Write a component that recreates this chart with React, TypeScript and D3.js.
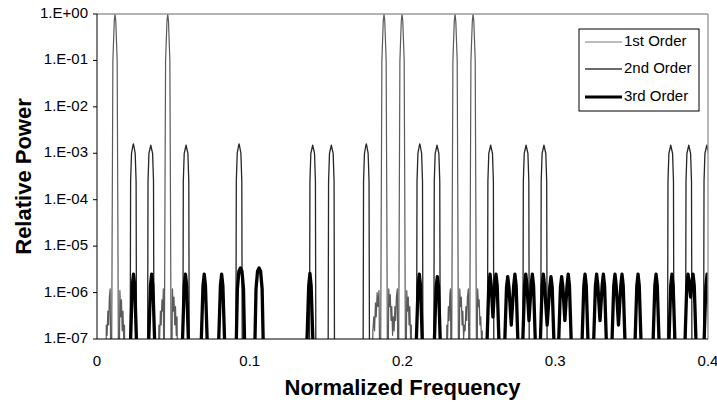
import React from 'react';
import * as d3 from 'd3';

const W = 717;
const H = 402;
const PL = 97, PR = 708, PT = 14, PB = 339;

const xTickValues = [0, 0.1, 0.2, 0.3, 0.4];
const xTickLabels = ['0', '0.1', '0.2', '0.3', '0.4'];
const yTickValues = [1, 1e-1, 1e-2, 1e-3, 1e-4, 1e-5, 1e-6, 1e-7];
const yTickLabels = ['1.E+00', '1.E-01', '1.E-02', '1.E-03', '1.E-04', '1.E-05', '1.E-06', '1.E-07'];
const seriesNames = ['1st Order', '2nd Order', '3rd Order'];
const xTitle = 'Normalized Frequency';
const yTitle = 'Relative Power';

// [normalized frequency, relative power]; values under 1e-7 fall below the axis
const firstOrder: [number, number][] = [
  [0, 1e-9],
  [0.0056, 1e-9], [0.0061, 2e-7], [0.0066, 1.2e-7], [0.0071, 4e-7], [0.0076, 2e-7], [0.0081, 8e-7], [0.0086, 1.2e-6],
  [0.0094, 1e-9], [0.0100, 1e-4], [0.0104, 0.1], [0.0113, 0.7], [0.0118, 1], [0.0123, 0.7], [0.0132, 0.1], [0.0136, 1e-4], [0.0142, 1e-9],
  [0.0150, 1.1e-6], [0.0155, 3e-7], [0.0160, 7e-7], [0.0165, 1.5e-7], [0.0170, 4e-7], [0.0175, 1e-7], [0.0180, 2e-7], [0.0186, 1e-9],
  [0.0399, 1e-9], [0.0405, 2e-7], [0.0410, 1e-7], [0.0415, 4e-7], [0.0420, 2e-7], [0.0425, 7e-7], [0.0430, 4e-7], [0.0434, 1.2e-6],
  [0.0439, 1e-9], [0.0445, 1e-4], [0.0449, 0.1], [0.0458, 0.7], [0.0463, 1], [0.0468, 0.7], [0.0477, 0.1], [0.0481, 1e-4], [0.0487, 1e-9],
  [0.0494, 1.2e-6], [0.0499, 4e-7], [0.0504, 8e-7], [0.0509, 2e-7], [0.0514, 5e-7], [0.0519, 1.2e-7], [0.0524, 3e-7], [0.0531, 1e-9],
  [0.1800, 1e-9], [0.1806, 1.5e-7], [0.1812, 3e-7], [0.1817, 1.5e-7], [0.1823, 6e-7], [0.1828, 3e-7], [0.1834, 1e-6], [0.1839, 5e-7], [0.1846, 1.1e-6],
  [0.1855, 1e-9], [0.1861, 1e-4], [0.1865, 0.1], [0.1874, 0.7], [0.1879, 1], [0.1884, 0.7], [0.1893, 0.1], [0.1897, 1e-4], [0.1903, 1e-9],
  [0.1910, 1.2e-6], [0.1915, 5e-7], [0.1920, 9e-7], [0.1925, 2.5e-7], [0.1930, 5e-7], [0.1935, 1.2e-7], [0.1940, 3e-7], [0.1945, 1.5e-7], [0.1950, 5e-7], [0.1955, 2.5e-7], [0.1960, 8e-7], [0.1966, 1.2e-6],
  [0.1973, 1e-9], [0.1979, 1e-4], [0.1983, 0.1], [0.1992, 0.7], [0.1997, 1], [0.2002, 0.7], [0.2011, 0.1], [0.2015, 1e-4], [0.2021, 1e-9],
  [0.2028, 1.1e-6], [0.2033, 4e-7], [0.2038, 8e-7], [0.2043, 2e-7], [0.2048, 5e-7], [0.2053, 1e-7], [0.2058, 2e-7], [0.2064, 1e-9],
  [0.2285, 1e-9], [0.2290, 2e-7], [0.2295, 1e-7], [0.2300, 5e-7], [0.2305, 2.5e-7], [0.2310, 9e-7], [0.2314, 1.2e-6],
  [0.2320, 1e-9], [0.2326, 1e-4], [0.2330, 0.1], [0.2339, 0.7], [0.2344, 1], [0.2349, 0.7], [0.2358, 0.1], [0.2362, 1e-4], [0.2368, 1e-9],
  [0.2375, 1.2e-6], [0.2380, 5e-7], [0.2385, 8e-7], [0.2390, 2e-7], [0.2395, 4e-7], [0.2400, 1e-7], [0.2405, 2e-7], [0.2410, 1.5e-7], [0.2415, 5e-7], [0.2420, 2.5e-7], [0.2425, 8e-7], [0.2431, 1.2e-6],
  [0.2438, 1e-9], [0.2444, 1e-4], [0.2448, 0.1], [0.2457, 0.7], [0.2462, 1], [0.2467, 0.7], [0.2476, 0.1], [0.2480, 1e-4], [0.2486, 1e-9],
  [0.2492, 1.2e-6], [0.2497, 5e-7], [0.2502, 7e-7], [0.2507, 2e-7], [0.2512, 3e-7], [0.2517, 1e-7], [0.2522, 1.5e-7], [0.2528, 1e-9],
  [0.4, 1e-9],
];

const secondOrder: [number, number][] = [
  [0, 1e-9],
  [0.0216, 1e-9], [0.0220, 2.5e-4], [0.0226, 1e-3], [0.0234, 1.4e-3], [0.0238, 1.6e-3], [0.0242, 1.4e-3], [0.0250, 1e-3], [0.0256, 2.5e-4], [0.0260, 1e-9],
  [0.0330, 1e-9], [0.0334, 2.5e-4], [0.0340, 1e-3], [0.0348, 1.3e-3], [0.0352, 1.5e-3], [0.0356, 1.3e-3], [0.0364, 1e-3], [0.0370, 2.5e-4], [0.0374, 1e-9],
  [0.0561, 1e-9], [0.0565, 2.5e-4], [0.0571, 1e-3], [0.0579, 1.3e-3], [0.0583, 1.5e-3], [0.0587, 1.3e-3], [0.0595, 1e-3], [0.0601, 2.5e-4], [0.0605, 1e-9],
  [0.0908, 1e-9], [0.0912, 2.5e-4], [0.0918, 1e-3], [0.0926, 1.4e-3], [0.0930, 1.6e-3], [0.0934, 1.4e-3], [0.0942, 1e-3], [0.0948, 2.5e-4], [0.0952, 1e-9],
  [0.1390, 1e-9], [0.1394, 2.5e-4], [0.1400, 1e-3], [0.1408, 1.3e-3], [0.1412, 1.5e-3], [0.1416, 1.3e-3], [0.1424, 1e-3], [0.1430, 2.5e-4], [0.1434, 1e-9],
  [0.1512, 1e-9], [0.1516, 2.5e-4], [0.1522, 1e-3], [0.1530, 1.3e-3], [0.1534, 1.5e-3], [0.1538, 1.3e-3], [0.1546, 1e-3], [0.1552, 2.5e-4], [0.1556, 1e-9],
  [0.1741, 1e-9], [0.1745, 2.5e-4], [0.1751, 1e-3], [0.1759, 1.4e-3], [0.1763, 1.6e-3], [0.1767, 1.4e-3], [0.1775, 1e-3], [0.1781, 2.5e-4], [0.1785, 1e-9],
  [0.2091, 1e-9], [0.2095, 2.5e-4], [0.2101, 1e-3], [0.2109, 1.4e-3], [0.2113, 1.6e-3], [0.2117, 1.4e-3], [0.2125, 1e-3], [0.2131, 2.5e-4], [0.2135, 1e-9],
  [0.2204, 1e-9], [0.2208, 2.5e-4], [0.2214, 1e-3], [0.2222, 1.3e-3], [0.2226, 1.5e-3], [0.2230, 1.3e-3], [0.2238, 1e-3], [0.2244, 2.5e-4], [0.2248, 1e-9],
  [0.2555, 1e-9], [0.2559, 2.5e-4], [0.2565, 1e-3], [0.2573, 1.3e-3], [0.2577, 1.5e-3], [0.2581, 1.3e-3], [0.2589, 1e-3], [0.2595, 2.5e-4], [0.2599, 1e-9],
  [0.2787, 1e-9], [0.2791, 2.5e-4], [0.2797, 1e-3], [0.2805, 1.3e-3], [0.2809, 1.5e-3], [0.2813, 1.3e-3], [0.2821, 1e-3], [0.2827, 2.5e-4], [0.2831, 1e-9],
  [0.2904, 1e-9], [0.2908, 2.5e-4], [0.2914, 1e-3], [0.2922, 1.3e-3], [0.2926, 1.5e-3], [0.2930, 1.3e-3], [0.2938, 1e-3], [0.2944, 2.5e-4], [0.2948, 1e-9],
  [0.3734, 1e-9], [0.3738, 2.5e-4], [0.3744, 1e-3], [0.3752, 1.3e-3], [0.3756, 1.5e-3], [0.3760, 1.3e-3], [0.3768, 1e-3], [0.3774, 2.5e-4], [0.3778, 1e-9],
  [0.3852, 1e-9], [0.3856, 2.5e-4], [0.3862, 1e-3], [0.3870, 1.3e-3], [0.3874, 1.5e-3], [0.3878, 1.3e-3], [0.3886, 1e-3], [0.3892, 2.5e-4], [0.3896, 1e-9],
  [0.3970, 1e-9], [0.3974, 2.5e-4], [0.3980, 1e-3], [0.3988, 1.3e-3], [0.3992, 1.5e-3], [0.3996, 1.3e-3], [0.4004, 1e-3], [0.4010, 2.5e-4], [0.4014, 1e-9],
];

const thirdOrder: [number, number][] = [
  [0, 1e-9],
  [0.0215, 3e-8], [0.0231, 1.4e-6], [0.0239, 2.5e-6], [0.0247, 1.4e-6], [0.0263, 3e-8],
  [0.0334, 3e-8], [0.0350, 1.4e-6], [0.0358, 2.5e-6], [0.0366, 1.4e-6], [0.0382, 3e-8],
  [0.0555, 3e-8], [0.0571, 1.4e-6], [0.0579, 2.5e-6], [0.0587, 1.4e-6], [0.0603, 3e-8],
  [0.0678, 3e-8], [0.0694, 1.4e-6], [0.0702, 2.5e-6], [0.0710, 1.4e-6], [0.0726, 3e-8],
  [0.0792, 3e-8], [0.0808, 1.4e-6], [0.0816, 2.5e-6], [0.0824, 1.4e-6], [0.0840, 3e-8],
  [0.0909, 3e-8], [0.0919, 1.2e-6], [0.0929, 2.9e-6], [0.0939, 3.4e-6], [0.0949, 2.9e-6], [0.0959, 1.2e-6], [0.0969, 3e-8],
  [0.1031, 3e-8], [0.1041, 1.2e-6], [0.1051, 2.9e-6], [0.1061, 3.4e-6], [0.1071, 2.9e-6], [0.1081, 1.2e-6], [0.1091, 3e-8],
  [0.1370, 3e-8], [0.1386, 1.4e-6], [0.1394, 2.6e-6], [0.1402, 1.4e-6], [0.1418, 3e-8],
  [0.2086, 3e-8], [0.2102, 1.4e-6], [0.2110, 2.5e-6], [0.2118, 1.4e-6], [0.2134, 3e-8],
  [0.2204, 3e-8], [0.2220, 1.3e-6], [0.2228, 2.2e-6], [0.2236, 1.3e-6], [0.2252, 3e-8],
  [0.2549, 3e-8], [0.2565, 1.4e-6], [0.2573, 2.5e-6], [0.2581, 1.4e-6], [0.2592, 3e-7], [0.2604, 1.4e-6], [0.2612, 2.5e-6], [0.2620, 1.4e-6], [0.2636, 3e-8],
  [0.2665, 3e-8], [0.2681, 1.3e-6], [0.2689, 2.2e-6], [0.2697, 1.3e-6], [0.2712, 2e-7], [0.2728, 1.4e-6], [0.2736, 2.5e-6], [0.2744, 1.4e-6], [0.2760, 3e-8],
  [0.2783, 3e-8], [0.2799, 1.4e-6], [0.2807, 2.5e-6], [0.2815, 1.4e-6], [0.2828, 2.5e-7], [0.2842, 1.4e-6], [0.2850, 2.5e-6], [0.2858, 1.4e-6], [0.2874, 3e-8],
  [0.2898, 3e-8], [0.2914, 1.4e-6], [0.2922, 2.5e-6], [0.2930, 1.4e-6], [0.2947, 2e-7], [0.2964, 1.3e-6], [0.2972, 2.2e-6], [0.2980, 1.3e-6], [0.2996, 3e-8],
  [0.3018, 3e-8], [0.3034, 1.3e-6], [0.3042, 2.2e-6], [0.3050, 1.3e-6], [0.3063, 2.5e-7], [0.3077, 1.4e-6], [0.3085, 2.5e-6], [0.3093, 1.4e-6], [0.3109, 3e-8],
  [0.3171, 3e-8], [0.3187, 1.4e-6], [0.3195, 2.5e-6], [0.3203, 1.4e-6], [0.3219, 3e-8],
  [0.3247, 3e-8], [0.3263, 1.4e-6], [0.3271, 2.5e-6], [0.3279, 1.4e-6], [0.3293, 2.5e-7], [0.3307, 1.4e-6], [0.3315, 2.5e-6], [0.3323, 1.4e-6], [0.3339, 3e-8],
  [0.3367, 3e-8], [0.3383, 1.4e-6], [0.3391, 2.5e-6], [0.3399, 1.4e-6], [0.3414, 2e-7], [0.3429, 1.4e-6], [0.3437, 2.5e-6], [0.3445, 1.4e-6], [0.3461, 3e-8],
  [0.3518, 3e-8], [0.3534, 1.4e-6], [0.3542, 2.5e-6], [0.3550, 1.4e-6], [0.3566, 3e-8],
  [0.3636, 3e-8], [0.3652, 1.4e-6], [0.3660, 2.5e-6], [0.3668, 1.4e-6], [0.3684, 3e-8],
  [0.3740, 3e-8], [0.3756, 1.4e-6], [0.3764, 2.5e-6], [0.3772, 1.4e-6], [0.3788, 3e-8],
  [0.3845, 3e-8], [0.3861, 1.4e-6], [0.3869, 2.5e-6], [0.3877, 1.6e-6], [0.3886, 8e-7], [0.3894, 1.6e-6], [0.3902, 2.5e-6], [0.3910, 1.4e-6], [0.3926, 3e-8],
  [0.3970, 3e-8], [0.3986, 1.4e-6], [0.3994, 2.5e-6], [0.4002, 1.4e-6], [0.4018, 3e-8],
];

const seriesData = [firstOrder, secondOrder, thirdOrder];
const seriesColors = ['#5a5a5a', '#262626', '#000000'];
const seriesWidths = [1.2, 1.3, 3.3];
const legendColors = ['#7a7a7a', '#3a3a3a', '#000000'];
const legendWidths = [1, 1.3, 3];

const FONT = 'Arial, "Liberation Sans", sans-serif';

export default function App() {
  const x = d3.scaleLinear().domain([0, 0.4]).range([PL, PR]);
  const y = d3.scaleLog().domain([1e-7, 1]).range([PB, PT]);
  const line = d3
    .line<[number, number]>()
    .x((d) => x(d[0]))
    .y((d) => y(d[1]));

  const legendX = 579, legendY = 29, legendW = 120, legendH = 82;
  const legendRows = [42, 69, 97];

  return (
    <svg
      width={W}
      height={H}
      viewBox={`0 0 ${W} ${H}`}
      style={{ position: 'absolute', left: 0, top: 0, background: '#fff', display: 'block' }}
      fontFamily={FONT}
    >
      <defs>
        <clipPath id="plotClip">
          <rect x={PL} y={PT - 4} width={PR - PL} height={PB - PT + 4} />
        </clipPath>
      </defs>
      <rect x={0} y={0} width={W} height={H} fill="#fff" />

      <g clipPath="url(#plotClip)">
        {seriesData.map((s, i) => (
          <path
            key={i}
            d={line(s) || ''}
            fill="none"
            stroke={seriesColors[i]}
            strokeWidth={seriesWidths[i]}
            strokeLinejoin="round"
          />
        ))}
      </g>

      {/* frame */}
      <line x1={PL} x2={PR} y1={PT} y2={PT} stroke="#9a9a9a" strokeWidth={1.4} />
      <line x1={PR} x2={PR} y1={PT} y2={PB} stroke="#9a9a9a" strokeWidth={1.4} />
      <line x1={PL} x2={PL} y1={PT} y2={PB} stroke="#000" strokeWidth={1} />
      <line x1={PL} x2={PR} y1={PB} y2={PB} stroke="#000" strokeWidth={1} />

      {/* y axis */}
      {yTickValues.map((v, i) => (
        <g key={i}>
          <line x1={PL - 4} x2={PL} y1={y(v)} y2={y(v)} stroke="#000" strokeWidth={1} />
          <text
            x={88}
            y={y(v)}
            textAnchor="end"
            dominantBaseline="middle"
            fontSize={15}
            fill="#000"
          >
            {yTickLabels[i]}
          </text>
        </g>
      ))}

      {/* x axis */}
      {xTickValues.map((v, i) => (
        <text key={i} x={x(v)} y={366} textAnchor="middle" fontSize={15} fill="#000">
          {xTickLabels[i]}
        </text>
      ))}

      <text
        x={(PL + PR) / 2}
        y={395}
        textAnchor="middle"
        fontSize={22}
        fontWeight="bold"
        fill="#000"
      >
        {xTitle}
      </text>
      <text
        transform={`translate(31, ${(PT + PB) / 2}) rotate(-90)`}
        textAnchor="middle"
        fontSize={22}
        fontWeight="bold"
        fill="#000"
      >
        {yTitle}
      </text>

      {/* legend */}
      <rect x={legendX} y={legendY} width={legendW} height={legendH} fill="#fff" stroke="#000" strokeWidth={1} />
      {seriesNames.map((name, i) => (
        <g key={name}>
          <line
            x1={585}
            x2={622}
            y1={legendRows[i]}
            y2={legendRows[i]}
            stroke={legendColors[i]}
            strokeWidth={legendWidths[i]}
          />
          <text x={624} y={legendRows[i]} dominantBaseline="middle" fontSize={15} fill="#000">
            {name}
          </text>
        </g>
      ))}
    </svg>
  );
}
